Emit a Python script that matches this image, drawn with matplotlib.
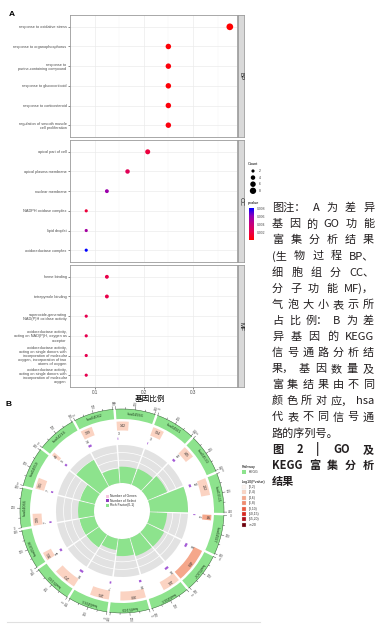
# -*- coding: utf-8 -*-
"""
GO dot plot (A) + KEGG enrichment circle (B) with side caption
"""
import numpy as np
import matplotlib
matplotlib.use('Agg')
import matplotlib.pyplot as plt
from matplotlib.patches import Wedge, Rectangle
from matplotlib.colors import LinearSegmentedColormap, Normalize
import matplotlib.cm as cm

plt.rcParams['font.family'] = ['Liberation Sans', 'DejaVu Sans']
CJK = ['Noto Sans CJK SC', 'DejaVu Sans']

W, H = 380, 630

#%% GO data (panel A), rows from top to bottom
bp_terms = ['response to oxidative stress', 'response to organophosphorus',
            'response to\npurine-containing compound', 'response to glucocorticoid',
            'response to corticosteroid', 'regulation of smooth muscle\ncell proliferation']
bp_ratio = [0.375, 0.25, 0.25, 0.25, 0.25, 0.25]
bp_count = [9, 6, 6, 6, 6, 6]
bp_pvalue = [0.00001, 0.0002, 0.0003, 0.0002, 0.0003, 0.0004]

cc_terms = ['apical part of cell', 'apical plasma membrane', 'nuclear membrane',
            'NADPH oxidase complex', 'lipid droplet', 'oxidoreductase complex']
cc_ratio = [0.208, 0.167, 0.125, 0.083, 0.083, 0.083]
cc_count = [5, 4, 3, 2, 2, 2]
cc_pvalue = [0.0017, 0.0025, 0.0057, 0.0016, 0.0053, 0.0082]

mf_terms = ['heme binding', 'tetrapyrrole binding',
            'superoxide-generating\nNAD(P)H oxidase activity',
            'oxidoreductase activity,\nacting on NAD(P)H, oxygen as\nacceptor',
            'oxidoreductase activity,\nacting on single donors with\nincorporation of molecular\noxygen, incorporation of two\natoms of oxygen',
            'oxidoreductase activity,\nacting on single donors with\nincorporation of molecular\noxygen']
mf_ratio = [0.125, 0.125, 0.083, 0.083, 0.083, 0.083]
mf_count = [3, 3, 2, 2, 2, 2]
mf_pvalue = [0.0020, 0.0020, 0.0022, 0.0022, 0.0022, 0.0022]

facets = ['BP', 'CC', 'MF']
count_breaks = [2, 4, 6, 8]
pvalue_breaks = [0.002, 0.004, 0.006, 0.008]

#%% KEGG data (panel B), sectors clockwise from the top
kegg_id = ['hsa04936', 'hsa04921', 'hsa04530', 'hsa01521', 'hsa04927',
           'hsa05207', 'hsa04923', 'hsa05169', 'hsa04933', 'hsa05160',
           'hsa05208', 'hsa04066', 'hsa04659', 'hsa04216', 'hsa04062']
kegg_genes = [142, 134, 145, 202, 64, 409, 211, 300, 225, 272, 101, 139, 131, 43, 139]
kegg_select = [3, 3, 12, 12, 4, 16, 16, 10, 7, 16, 11, 7, 7, 9, 14]
kegg_rich = [0.43, 0.45, 0.55, 1.0, 0.45, 0.5, 0.5, 0.45, 0.3, 0.4, 0.4, 0.42, 0.4, 0.8, 0.38]
kegg_logp = [3.1, 2.8, 3.0, 3.4, 4.6, 5.2, 3.6, 2.9, 2.6, 2.7, 3.5, 2.5, 2.4, 3.3, 2.6]
logp_edges = [0, 2, 4, 6, 8, 10, 15, 20]
logp_labels = ['[0,2)', '[2,4)', '[4,6)', '[6,8)', '[8,10)', '[10,15)', '[15,20)', '>=20']
logp_colors = ['#FFF5F0', '#FBD3C2', '#F5A78B', '#F08A6C', '#EA5A40', '#D9261E', '#B0101A', '#6E000C']

#%% caption (tokens, justified, bold)
caption = [
    (['图注：', 'A', '为', '差', '异'], True, 'normal'),
    (['基', '因', '的', 'GO', '功', '能'], True, 'normal'),
    (['富', '集', '分', '析', '结', '果'], True, 'normal'),
    (['(生', '物', '过', '程', 'BP、'], True, 'normal'),
    (['细', '胞', '组', '分', 'CC、'], True, 'normal'),
    (['分', '子', '功', '能', 'MF)，'], True, 'normal'),
    (list('气泡大小表示所'), True, 'normal'),
    (['占', '比', '例：', 'B', '为', '差'], True, 'normal'),
    (['异', '基', '因', '的', 'KEGG'], True, 'normal'),
    (list('信号通路分析结'), True, 'normal'),
    (['果，', '基', '因', '数', '量', '及'], True, 'normal'),
    (list('富集结果由不同'), True, 'normal'),
    (['颜', '色', '所', '对', '应，', 'hsa'], True, 'normal'),
    (list('代表不同信号通'), True, 'normal'),
    (['路的序列号。'], False, 'normal'),
    (['图', '2', '|', 'GO', '及'], True, 'bold'),
    (['KEGG', '富', '集', '分', '析'], True, 'bold'),
    (['结果'], False, 'bold'),
]


def rect(x0, y0, x1, y1):
    return [x0 / W, 1 - y1 / H, (x1 - x0) / W, (y1 - y0) / H]


fig = plt.figure(figsize=(W / 100, H / 100), dpi=100)

cmap = LinearSegmentedColormap.from_list(
    'pv', ['#FF0000', '#E8004C', '#C4007E', '#9000B8', '#0000FF'])
allp = bp_pvalue + cc_pvalue + mf_pvalue
norm = Normalize(min(allp), max(allp))


def size_of(c):
    return 2.6 * np.asarray(c, dtype=float)


#%% panel A
data = [(bp_terms, bp_ratio, bp_count, bp_pvalue),
        (cc_terms, cc_ratio, cc_count, cc_pvalue),
        (mf_terms, mf_ratio, mf_count, mf_pvalue)]
tops = [15, 140, 265]
allr = bp_ratio + cc_ratio + mf_ratio
pad = 0.05 * (max(allr) - min(allr))
for k, (terms, ratio, count, pv) in enumerate(data):
    top = tops[k]
    ax = fig.add_axes(rect(70, top, 237, top + 122))
    ypos = np.arange(len(terms), 0, -1)
    ax.set_xlim(min(allr) - pad, max(allr) + pad)
    ax.set_ylim(0.4, len(terms) + 0.6)
    ax.set_xticks([0.1, 0.2, 0.3])
    ax.set_xticks([0.05, 0.15, 0.25, 0.35], minor=True)
    ax.set_yticks(ypos)
    ax.set_yticklabels(terms, fontsize=2.8, color='#4D4D4D', linespacing=1.05)
    ax.grid(True, which='major', color='#EBEBEB', lw=0.5)
    ax.grid(True, which='minor', axis='x', color='#F2F2F2', lw=0.3)
    ax.set_axisbelow(True)
    for s in ax.spines.values():
        s.set_color('#9A9A9A')
        s.set_linewidth(0.6)
    ax.tick_params(axis='y', length=1.5, width=0.4, color='#333333', pad=1)
    ax.tick_params(which='minor', length=0)
    if k == 2:
        ax.tick_params(axis='x', length=1.5, width=0.4, color='#333333',
                       labelsize=3.3, labelcolor='#4D4D4D', pad=0.8)
    else:
        ax.tick_params(axis='x', length=0, labelbottom=False)
    ax.scatter(ratio, ypos, s=size_of(count), c=pv, cmap=cmap, norm=norm,
               edgecolors='none', zorder=3)
    st = fig.add_axes(rect(237.5, top, 244, top + 122))
    st.set_facecolor('#D9D9D9')
    st.set_xticks([])
    st.set_yticks([])
    for s in st.spines.values():
        s.set_color('#9A9A9A')
        s.set_linewidth(0.6)
    st.text(0.5, 0.5, facets[k], rotation=-90, ha='center', va='center',
            fontsize=4.5, color='#1A1A1A', transform=st.transAxes)

# colour bar for pvalue
cax = fig.add_axes(rect(249, 208, 254, 240))
cb = fig.colorbar(cm.ScalarMappable(norm=norm, cmap=cmap), cax=cax, ticks=pvalue_breaks)
cb.outline.set_visible(False)
cb.ax.tick_params(labelsize=2.4, length=1.2, width=0.3, color='white', pad=1,
                  labelcolor='#4D4D4D')
cb.ax.set_yticklabels([str(b) for b in pvalue_breaks])

#%% overlay in pixel coordinates
ov = fig.add_axes([0, 0, 1, 1])
ov.set_xlim(0, W)
ov.set_ylim(H, 0)
ov.axis('off')

ov.text(9, 14, 'A', fontsize=6, fontweight='bold', ha='left', va='center')
ov.text(6, 404, 'B', fontsize=6, fontweight='bold', ha='left', va='center')
ov.text(150, 399, '基因比例', family=CJK, fontsize=5.5, ha='center', va='center')

# count legend
ov.text(248, 164, 'Count', fontsize=2.8, ha='left', va='center')
for j, b in enumerate(count_breaks):
    yy = 171 + j * 6.6
    ov.scatter([253], [yy], s=size_of([b]), c='black', edgecolors='none')
    ov.text(258.5, yy, str(b), fontsize=2.4, ha='left', va='center', color='#333333')
ov.text(248, 203, 'pvalue', fontsize=2.8, ha='left', va='center')

#%% panel B circle
green = '#8DE38D'
cx, cy = 122, 511


def pol(r, phi):
    a = np.radians(phi)
    return cx + r * np.sin(a), cy - r * np.cos(a)


def tang(phi):
    rot = -phi
    while rot <= -180:
        rot += 360
    return rot


def wedge(r_out, width, a0, a1, color, z=2):
    ov.add_patch(Wedge((cx, cy), r_out, a0 - 90, a1 - 90, width=width,
                       facecolor=color, edgecolor='none', zorder=z))


n = len(kegg_id)
step = 360.0 / n
span = step - 1.4
start0 = -3.5
gmax = max(kegg_genes)
smax = max(kegg_select)
r_in, r_rich = 28, 66

for i in range(n):
    a0 = start0 + i * step
    a1 = a0 + span
    mid = (a0 + a1) / 2
    # outer pathway ring + axis
    wedge(102, 10, a0, a1, green)
    phis = np.linspace(a0, a1, 40)
    xs, ys = pol(102, phis)
    ov.plot(xs, ys, color='#2E5E2E', lw=0.35, zorder=3)
    for v in range(0, gmax + 1, 100):
        ph = a0 + v / gmax * span
        big = v % 200 == 0
        x0, y0 = pol(102, ph)
        x1, y1 = pol(104.8 if big else 103.6, ph)
        ov.plot([x0, x1], [y0, y1], color='#333333', lw=0.3, zorder=3)
        if big:
            tx, ty = pol(108.5, ph)
            rot = 90 - ph
            while rot < -90:
                rot += 180
            ov.text(tx, ty, str(v), fontsize=2.0, rotation=rot, rotation_mode='anchor',
                    ha='center', va='center', color='#333333')
    tx, ty = pol(97, mid)
    ov.text(tx, ty, kegg_id[i], fontsize=2.7, rotation=tang(mid), rotation_mode='anchor',
            ha='center', va='center', color='#1F3F1F', zorder=4)

    # background gene number ring
    g_end = a0 + kegg_genes[i] / gmax * span
    ci = np.searchsorted(logp_edges, kegg_logp[i], side='right') - 1
    wedge(89.5, 9, a0, g_end, logp_colors[ci])
    gm = (a0 + g_end) / 2
    tx, ty = pol(85, gm)
    ov.text(tx, ty, str(kegg_genes[i]), fontsize=2.6, rotation=tang(gm),
            rotation_mode='anchor', ha='center', va='center', color='#333333', zorder=4)

    # selected gene number ring
    s_end = a0 + kegg_select[i] / smax * 3.0
    wedge(73.5, 2.2, a0, s_end, '#A45BD6')
    tx, ty = pol(77, a0 + 1.0)
    ov.text(tx, ty, str(kegg_select[i]), fontsize=2.4, rotation=tang(a0 + 1.0),
            rotation_mode='anchor', ha='center', va='center', color='#333333', zorder=4)

    # rich factor ring
    wedge(r_rich, r_rich - r_in, a0, a1, '#E2E2E2', z=2)
    for k in range(1, 5):
        rr = r_in + k * (r_rich - r_in) / 5
        xs, ys = pol(rr, phis)
        ov.plot(xs, ys, color='white', lw=0.5, zorder=2.5)
    hgt = kegg_rich[i] * (r_rich - r_in)
    wedge(r_in + hgt, hgt, a0, a1, green, z=3)

# centre legend
for j, (lab, col) in enumerate([('Number of Genes', '#F6C5DE'),
                                ('Number of Select', '#8E3FC0'),
                                ('Rich Factor(0-1)', green)]):
    yy = 496 + j * 4.6
    ov.add_patch(Rectangle((105.5, yy - 1.5), 3, 3, facecolor=col, edgecolor='none'))
    ov.text(110, yy, lab, fontsize=2.4, ha='left', va='center', color='#333333')

# right legend of B
ov.text(242, 467, 'Pathway', fontsize=2.6, ha='left', va='center')
ov.add_patch(Rectangle((242, 470.3), 4, 4, facecolor=green, edgecolor='none'))
ov.text(248.5, 472.3, 'KEGG', fontsize=2.4, ha='left', va='center', color='#333333')
ov.text(242, 481.5, '-log10(Pvalue)', fontsize=2.6, ha='left', va='center')
for j, (lab, col) in enumerate(zip(logp_labels, logp_colors)):
    yy = 487 + j * 5.4
    ov.add_patch(Rectangle((242, yy - 2), 4, 4, facecolor=col, edgecolor='#DDDDDD',
                           lw=0.2))
    ov.text(248.5, yy, lab, fontsize=2.4, ha='left', va='center', color='#333333')

ov.plot([7, 260], [622, 622], color='#E0E0E0', lw=0.8)

#%% caption, justified between x0 and x1
x0c, x1c = 272, 374
y0c, dyc = 208, 16.1
renderer = fig.canvas.get_renderer()
for li, (tokens, justify, weight) in enumerate(caption):
    yy = y0c + li * dyc
    objs = [ov.text(x0c, yy, t, family=CJK, fontsize=8, fontweight=weight,
                    ha='left', va='center', color='#231F20') for t in tokens]
    widths = [o.get_window_extent(renderer).width for o in objs]
    if justify and len(objs) > 1:
        gapw = (x1c - x0c - sum(widths)) / (len(objs) - 1)
    else:
        gapw = 1.5
    xx = x0c
    for o, w in zip(objs, widths):
        o.set_x(xx)
        xx += w + gapw

fig.savefig('out.png', dpi=100)
